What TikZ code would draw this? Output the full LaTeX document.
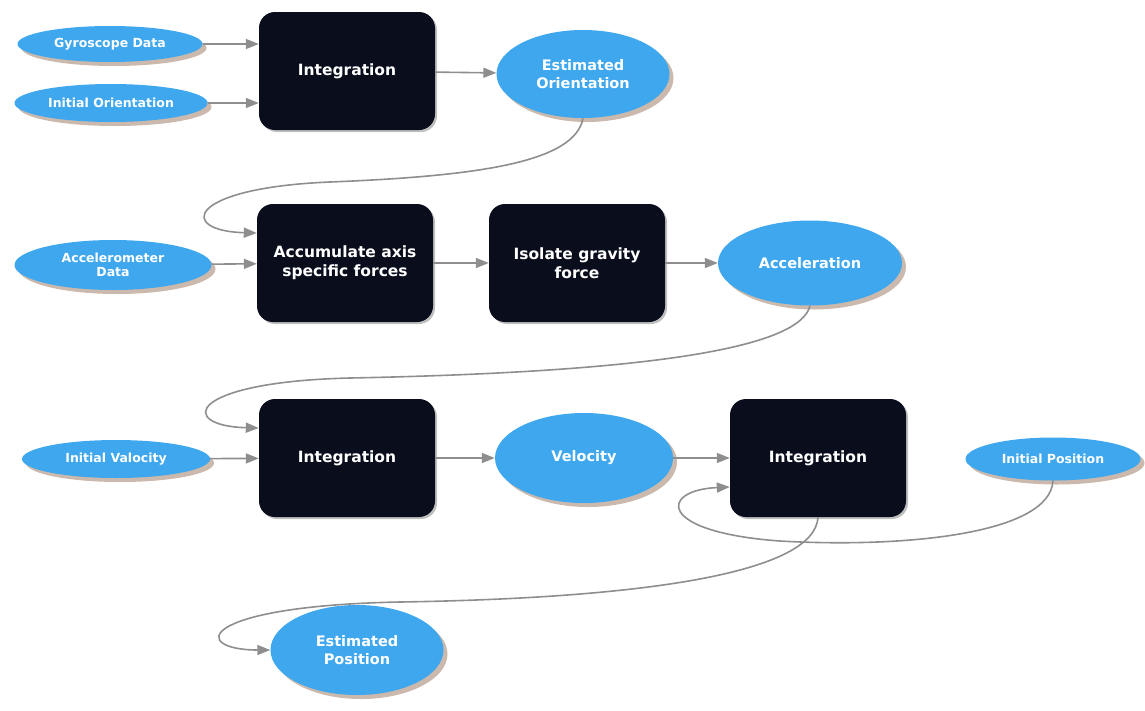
\documentclass[tikz,border=0pt]{standalone}
\usepackage{fontspec}
\setmainfont{DejaVu Sans}
\usetikzlibrary{shapes.geometric,arrows.meta,shadows}
\definecolor{ellblue}{HTML}{3FA7EE}
\definecolor{boxdark}{HTML}{0A0E1C}
\definecolor{conngray}{HTML}{8E8E8E}
\definecolor{shadowbrown}{HTML}{8A6448}
\tikzset{
  stepbox/.style={draw=none, fill=boxdark, rounded corners=16pt, minimum width=176pt, minimum height=118pt,
    text=white, font=\bfseries\fontsize{15.5}{19}\selectfont, align=center, inner sep=0pt,
    drop shadow={shadow xshift=2pt, shadow yshift=-2pt, fill=black, opacity=0.25}},
  databub/.style={ellipse, draw=none, fill=ellblue, text=white, align=center, inner sep=0pt,
    font=\bfseries\fontsize{12.5}{14}\selectfont,
    drop shadow={shadow xshift=4pt, shadow yshift=-4pt, fill=shadowbrown, opacity=0.45}},
  bigbub/.style={databub, font=\bfseries\fontsize{14.5}{18}\selectfont},
  conn/.style={draw=conngray, line width=1.6pt, -{Triangle[length=13pt,width=10pt]}, color=conngray},
}
\begin{document}
\begin{tikzpicture}[x=1pt,y=-1pt]
\useasboundingbox (0,0) rectangle (1145,710);
% nodes
\node[databub, minimum width=185pt, minimum height=36pt] (gd) at (110,44) {Gyroscope Data};
\node[databub, minimum width=193pt, minimum height=38pt] (io) at (111,103) {Initial Orientation};
\node[stepbox] (int1) at (347,71) {Integration};
\node[bigbub, minimum width=173pt, minimum height=88pt] (eo) at (583,74) {Estimated\\Orientation};
\node[databub, minimum width=197pt, minimum height=50pt] (ad) at (113,265) {Accelerometer\\Data};
\node[stepbox] (acc) at (345,263) {Accumulate axis\\specific forces};
\node[stepbox] (ig) at (577,263) {Isolate gravity\\force};
\node[bigbub, minimum width=184pt, minimum height=85pt] (acl) at (810,263) {Acceleration};
\node[databub, minimum width=188pt, minimum height=38pt] (iv) at (116,459) {Initial Valocity};
\node[stepbox] (int2) at (347,458) {Integration};
\node[bigbub, minimum width=178pt, minimum height=90pt] (vel) at (584,458) {Velocity};
\node[stepbox] (int3) at (818,458) {Integration};
\node[databub, minimum width=175pt, minimum height=43pt] (ip) at (1053,459) {Initial Position};
\node[bigbub, minimum width=173pt, minimum height=90pt] (ep) at (357,650) {Estimated\\Position};
% connectors
\draw[conn] (gd.east) -- (gd.east -| int1.west);
\draw[conn] (io.east) -- (io.east -| int1.west);
\draw[conn] (int1) -- (eo);
\draw[conn] (eo.south) .. controls (575,162) and (480,176) .. (330,182)
  .. controls (185,188) and (178,231) .. ([yshift=30pt]acc.west);
\draw[conn] (ad) -- (acc);
\draw[conn] (acc) -- (ig);
\draw[conn] (ig) -- (acl);
\draw[conn] (acl.south) .. controls (800,348) and (650,372) .. (350,378)
  .. controls (185,382) and (178,426) .. ([yshift=30pt]int2.west);
\draw[conn] (iv) -- (int2);
\draw[conn] (int2) -- (vel);
\draw[conn] (vel) -- (int3);
\draw[conn] (ip.south) .. controls (1050,535) and (900,548) .. (780,541)
  .. controls (655,532) and (660,490) .. ([yshift=-29pt]int3.west);
\draw[conn] (int3.south) .. controls (815,572) and (650,598) .. (400,602)
  .. controls (195,606) and (190,650) .. (ep.west);
\end{tikzpicture}
\end{document}
